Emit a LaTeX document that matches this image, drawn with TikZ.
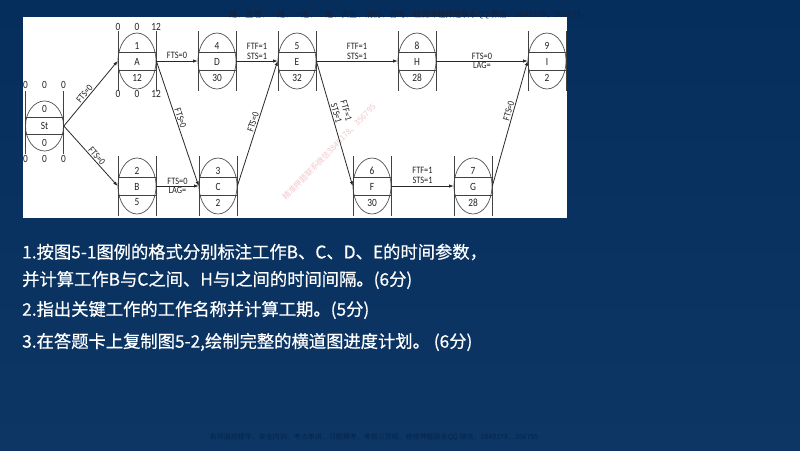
\documentclass[tikz,border=0pt]{standalone}
\usepackage{fontspec}
\setmainfont{Carlito}
\newfontfamily\cjk{Noto Sans CJK SC}
\newfontfamily\cjkq[FakeBold=0.6]{Noto Sans CJK SC}
\newfontfamily\lbl[FakeStretch=0.85]{Carlito}
\usetikzlibrary{shapes.geometric,arrows.meta}
\definecolor{bgtop}{RGB}{6,46,92}
\definecolor{bgbot}{RGB}{14,54,100}
\definecolor{nodegray}{RGB}{80,80,80}
\definecolor{linegray}{RGB}{65,65,65}
\definecolor{linedark}{RGB}{40,40,40}
\definecolor{txtgray}{RGB}{35,35,35}
\definecolor{wmtop}{RGB}{22,34,56}
\definecolor{wmbot}{RGB}{4,36,74}
\definecolor{wmpink}{RGB}{243,200,204}
\tikzset{
  ell/.style={ellipse, draw=nodegray, line width=0.7pt, minimum width=38pt, minimum height=56pt, inner sep=0pt},
  vl/.style={draw=linegray, line width=0.7pt},
  ntext/.style={font=\lbl\fontsize{11}{11}\selectfont, text=txtgray, inner sep=0pt},
  albl/.style={font=\lbl\fontsize{9.8}{10.3}\selectfont, text=txtgray, inner sep=1pt, align=center},
  arr/.style={draw=linedark, line width=0.8pt, -{Latex[length=4.5pt,width=3.4pt]}},
  qtext/.style={font=\cjkq\fontsize{17.3}{17.3}\selectfont, text=white, anchor=west, inner sep=0pt},
}
\newcommand\wnode[6]{%
  \node[ell] (#1) at (#2,#3) {};
  \draw[vl] (#2-19,#3-30) -- (#2-19,#3+30) (#2+19,#3-30) -- (#2+19,#3+30)
    (#2-19,#3-9) -- (#2+19,#3-9) (#2-19,#3+9) -- (#2+19,#3+9);
  \node[ntext] (#1t) at (#2,#3-15) {#4};
  \node[ntext] (#1m) at (#2,#3+0.5) {#5};
  \node[ntext] (#1b) at (#2,#3+16.5) {#6};
}
\begin{document}
\begin{tikzpicture}[x=1pt,y=-1pt]
\useasboundingbox (0,0) rectangle (800,450);
\shade[top color=bgtop, bottom color=bgbot] (0,0) rectangle (800,450);
% panel
\fill[white] (23,17) rectangle (567,218);
% watermarks
\node[font=\cjk\fontsize{8}{8}\selectfont, text=wmtop, inner sep=0pt] (wm1) at (401,14.5) {二建、监理、一建、一造、二造、安全、消防、咨询、检测课程押题联系QQ 微信：3849178、356795};
\node[font=\cjk\fontsize{7}{7}\selectfont, text=wmbot, inner sep=0pt] (wm2) at (374,437.5) {名师面授精华、安全内训、考点串讲、习题模考、考前三页纸、绝密押题联系QQ 微信：3849178、356795};
\node[font=\cjk\fontsize{8}{8}\selectfont, text=wmpink, inner sep=0pt, rotate=46] (wm3) at (329,152) {精准押题联系微信3849178、356795};
% start node
\node[ell, minimum height=50pt] (St) at (44.5,126) {};
\draw[vl] (25.5,91) -- (25.5,154) (63.5,91) -- (63.5,154)
  (25.5,117.5) -- (63.5,117.5) (25.5,134.5) -- (63.5,134.5);
\node[ntext] (Stt) at (44.5,109) {0};
\node[ntext] (Stm) at (44.5,126) {St};
\node[ntext] (Stb) at (44.5,143) {0};
\node[ntext] (St1) at (25.5,85) {0};
\node[ntext] (St2) at (44.5,85) {0};
\node[ntext] (St3) at (63.5,85) {0};
\node[ntext] (St4) at (25.5,159) {0};
\node[ntext] (St5) at (44.5,159) {0};
\node[ntext] (St6) at (63.5,159) {0};
% work nodes
\wnode{A}{137}{61}{1}{A}{12}
\wnode{D}{217}{61}{4}{D}{30}
\wnode{E}{297}{61}{5}{E}{32}
\wnode{H}{417}{61}{8}{H}{28}
\wnode{I}{547}{61}{9}{I}{2}
\wnode{B}{137}{186}{2}{B}{5}
\wnode{C}{218}{186}{3}{C}{2}
\wnode{F}{372}{186}{6}{F}{30}
\wnode{G}{473}{186}{7}{G}{28}
\node[ntext] (A1) at (118,26.5) {0};
\node[ntext] (A2) at (137,26.5) {0};
\node[ntext] (A3) at (156,26.5) {12};
\node[ntext] (A4) at (118,94) {0};
\node[ntext] (A5) at (137,94) {0};
\node[ntext] (A6) at (156,94) {12};
% connectors
\draw[arr] (St.east) -- node[albl, sloped, above, pos=0.45] {FTS=0} (A.west);
\draw[arr] (St.east) -- node[albl, sloped, above, pos=0.55] {FTS=0} (B.west);
\draw[arr] (A.east) -- node[albl, above=1pt] {FTS=0} (D.west);
\draw[arr] (A.east) -- node[albl, sloped, above, pos=0.47] {FTS=0} (C.west);
\draw[arr] (D.east) -- node[albl, above=0pt] {FTF=1\\STS=1} (E.west);
\draw[arr] (C.east) -- node[albl, sloped, above, pos=0.5] {FTS=0} (E.west);
\draw[arr] (E.east) -- node[albl, above=0pt] {FTF=1\\STS=1} (H.west);
\draw[arr] (E.east) -- node[albl, sloped, above, pos=0.43] {FTF=1\\STS=1} (F.west);
\draw[arr] (H.east) -- node[albl, above=0pt] {FTS=0} node[albl, below=0pt] {LAG=} (I.west);
\draw[arr] (B.east) -- node[albl, above=0pt] {FTS=0} node[albl, below=0pt] {LAG=} (C.west);
\draw[arr] (F.east) -- node[albl, above=1pt] {FTF=1\\STS=1} (G.west);
\draw[arr] (G.east) -- node[albl, sloped, above, pos=0.59] {FTS=0} (I.west);
% questions
\node[qtext] (q1) at (22,252) {1.按图5-1图例的格式分别标注工作B、C、D、E的时间参数，};
\node[qtext] (q2) at (22,280) {并计算工作B与C之间、H与I之间的时间间隔。(6分)};
\node[qtext] (q3) at (22,310) {2.指出关键工作的工作名称并计算工期。(5分)};
\node[qtext] (q4) at (22,342) {3.在答题卡上复制图5-2,绘制完整的横道图进度计划。 (6分)};
\end{tikzpicture}
\end{document}
